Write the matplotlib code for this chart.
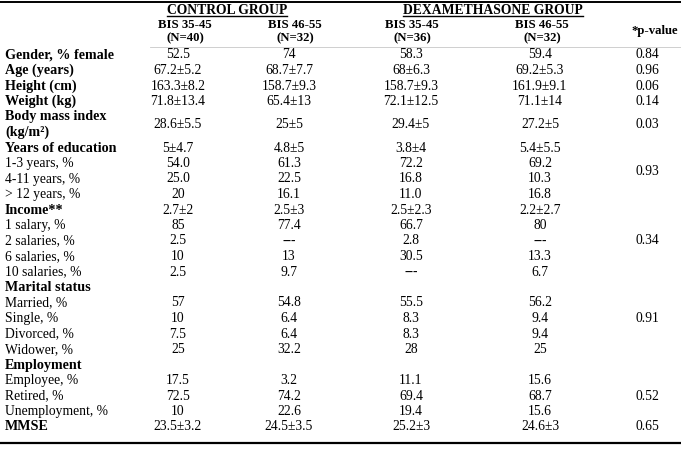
import matplotlib.pyplot as plt

plt.rcParams['font.family'] = ['Liberation Serif', 'DejaVu Serif']

# column headers
groups = ['CONTROL GROUP', 'DEXAMETHASONE GROUP']
subgroups = ['BIS 35-45', 'BIS 46-55', 'BIS 35-45', 'BIS 46-55']
sizes = ['(N=40)', '(N=32)', '(N=36)', '(N=32)']
p_header = '*p-value'

# row labels (bold = section / variable heading)
labels = ['Gender, % female', 'Age (years)', 'Height (cm)', 'Weight (kg)',
          'Body mass index\n(kg/m²)', 'Years of education', '1-3 years, %', '4-11 years, %',
          '> 12 years, %', 'Income**', '1 salary, %', '2 salaries, %', '6 salaries, %',
          '10 salaries, %', 'Marital status', 'Married, %', 'Single, %', 'Divorced, %',
          'Widower, %', 'Employment', 'Employee, %', 'Retired, %', 'Unemployment, %', 'MMSE']
bold = [True, True, True, True, True, True, False, False, False, True, False, False, False,
        False, True, False, False, False, False, True, False, False, False, True]

control_35_45 = ['52.5', '67.2±5.2', '163.3±8.2', '71.8±13.4', '28.6±5.5', '5±4.7', '54.0', '25.0',
                 '20', '2.7±2', '85', '2.5', '10', '2.5', '', '57', '10', '7.5', '25', '',
                 '17.5', '72.5', '10', '23.5±3.2']
control_46_55 = ['74', '68.7±7.7', '158.7±9.3', '65.4±13', '25±5', '4.8±5', '61.3', '22.5',
                 '16.1', '2.5±3', '77.4', '---', '13', '9.7', '', '54.8', '6.4', '6.4', '32.2', '',
                 '3.2', '74.2', '22.6', '24.5±3.5']
dexa_35_45 = ['58.3', '68±6.3', '158.7±9.3', '72.1±12.5', '29.4±5', '3.8±4', '72.2', '16.8',
              '11.0', '2.5±2.3', '66.7', '2.8', '30.5', '---', '', '55.5', '8.3', '8.3', '28', '',
              '11.1', '69.4', '19.4', '25.2±3']
dexa_46_55 = ['59.4', '69.2±5.3', '161.9±9.1', '71.1±14', '27.2±5', '5.4±5.5', '69.2', '10.3',
              '16.8', '2.2±2.7', '80', '---', '13.3', '6.7', '', '56.2', '9.4', '9.4', '25', '',
              '15.6', '68.7', '15.6', '24.6±3']

# p-values and the rows (first, last) they refer to
p_values = ['0.84', '0.96', '0.06', '0.14', '0.03', '0.93', '0.34', '0.91', '0.52', '0.65']
p_rows = [(0, 0), (1, 1), (2, 2), (3, 3), (4, 4), (6, 7), (11, 11), (16, 16), (20, 22), (23, 23)]

fig = plt.figure(figsize=(6.81, 4.49), dpi=100)
ax = fig.add_axes([0, 0, 1, 1])
ax.set_xlim(0, 681)
ax.set_ylim(449, 0)
ax.axis('off')

fs = 9.8
col_x = [178, 289, 411, 540]
head_x = [185, 295, 412, 542]
p_x = 647
y0, dy = 55, 15.5

# row positions: BMI label takes two lines
row_y = []
slot = 0
for lab in labels:
    n = lab.count('\n') + 1
    row_y.append(y0 + dy * (slot + (n - 1) / 2))
    slot += n

# rules
ax.plot([0, 681], [2, 2], color='black', lw=1.4)
ax.plot([150, 681], [46.5, 46.5], color='#c8c8c8', lw=0.6)
ax.plot([0, 681], [442.5, 442.5], color='black', lw=1.6)

# group headers, underlined
for g, x in zip(groups, [227, 493]):
    t = ax.text(x, 13.5, g, ha='center', va='baseline', fontsize=9.8, fontweight='bold')
    fig.canvas.draw()
    bb = t.get_window_extent().transformed(ax.transData.inverted())
    ax.plot([bb.x0, bb.x1], [16, 16], color='black', lw=1.0)

for s, n, x in zip(subgroups, sizes, head_x):
    ax.text(x, 24.5, s, ha='center', va='center', fontsize=9.2, fontweight='bold')
    ax.text(x, 38, n, ha='center', va='center', fontsize=9.2, fontweight='bold')
ax.text(655, 31, p_header, ha='center', va='center', fontsize=9.2, fontweight='bold')

cols = [control_35_45, control_46_55, dexa_35_45, dexa_46_55]
for i, lab in enumerate(labels):
    y = row_y[i]
    ax.text(5, y, lab, ha='left', va='center', fontsize=10.2 if bold[i] else fs,
            fontweight='bold' if bold[i] else 'normal', linespacing=1.25)
    for x, col in zip(col_x, cols):
        ax.text(x, y, col[i], ha='center', va='center', fontsize=fs)

for p, (a, b) in zip(p_values, p_rows):
    ax.text(p_x, (row_y[a] + row_y[b]) / 2, p, ha='center', va='center', fontsize=fs)

fig.savefig('out.png', dpi=100)
